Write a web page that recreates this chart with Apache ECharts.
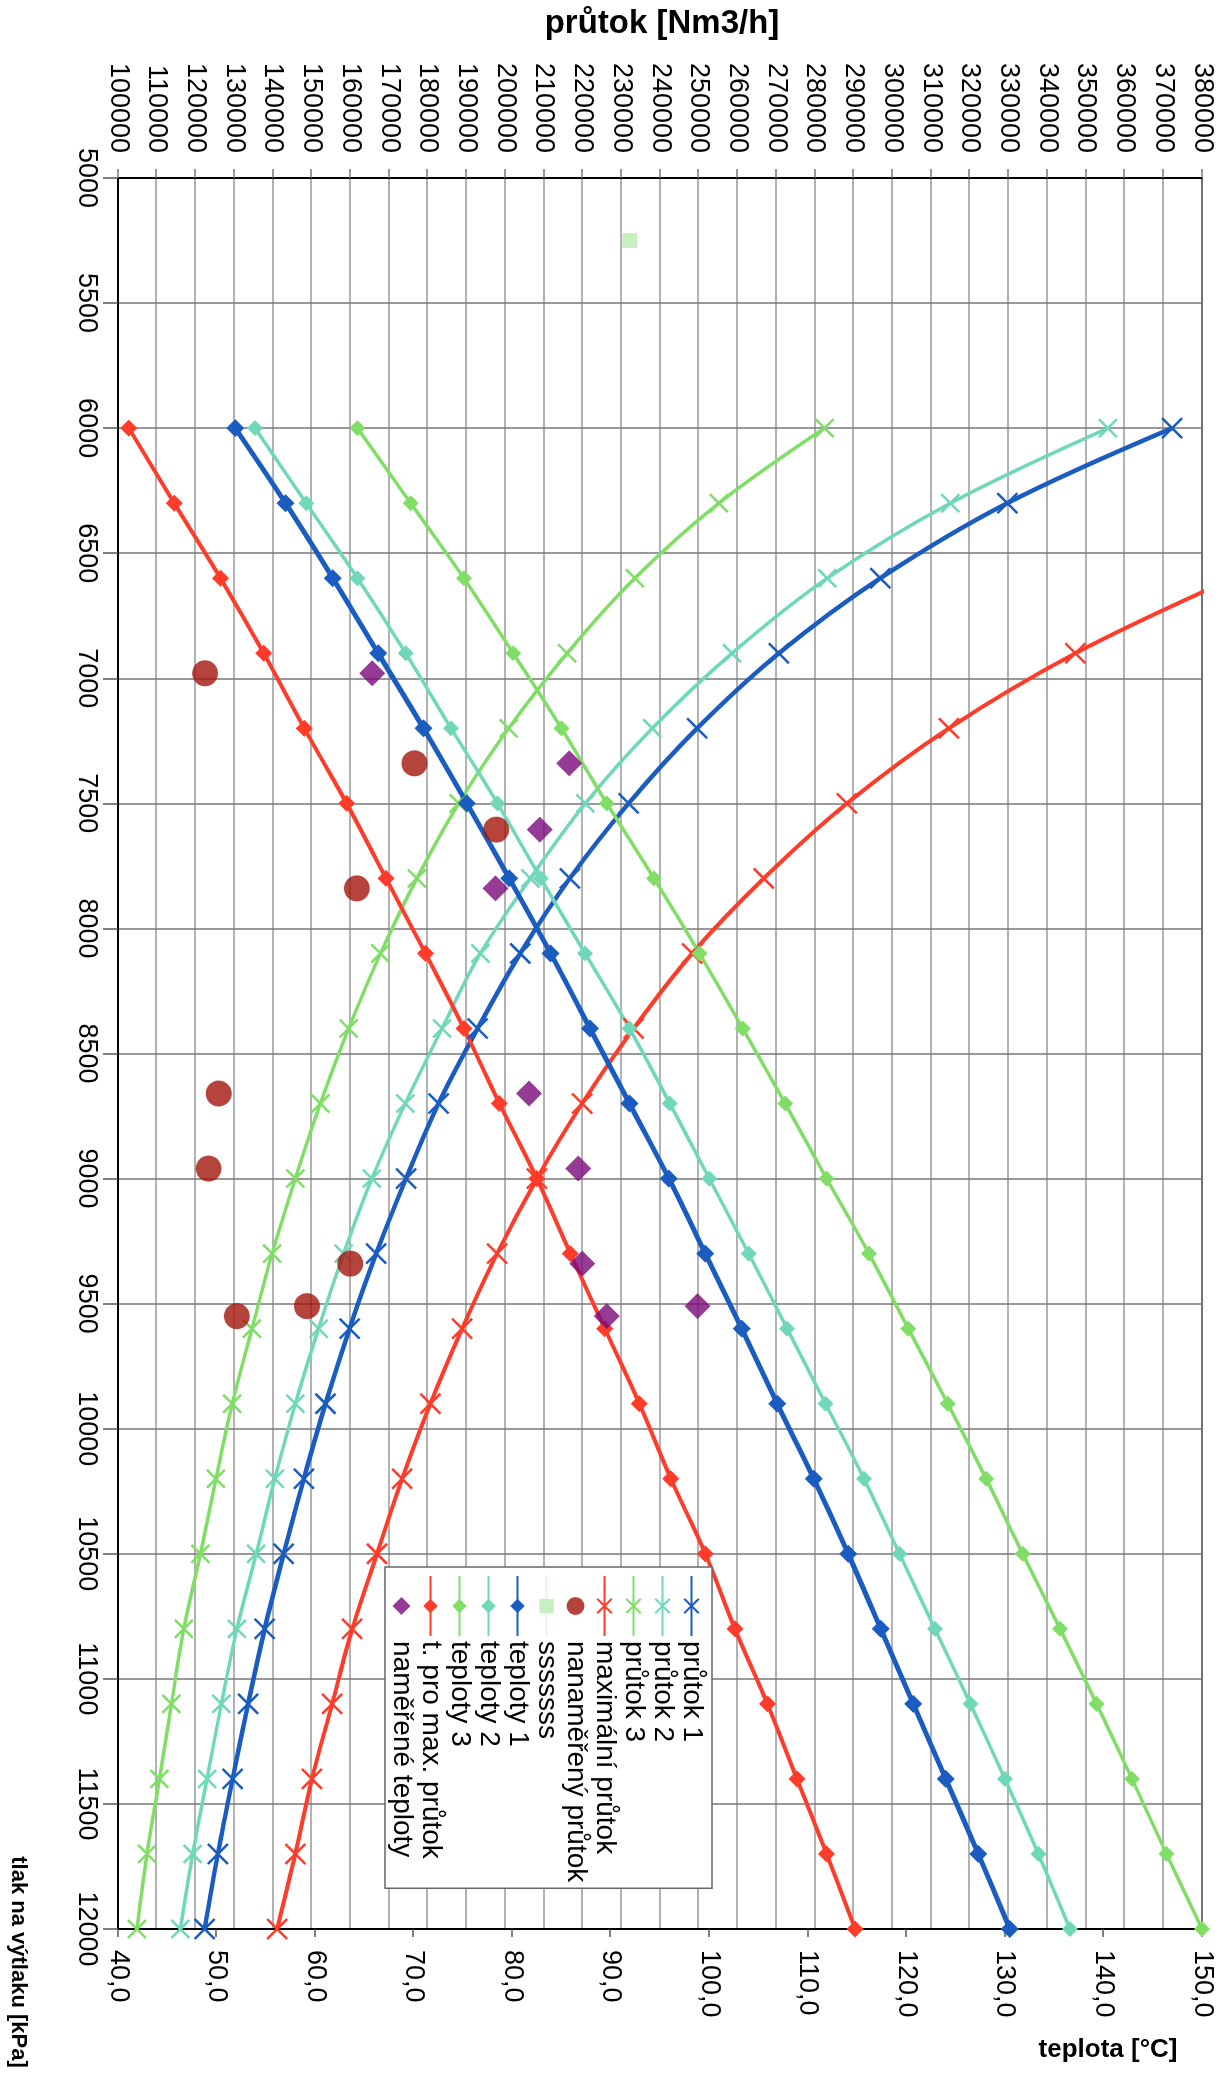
<!DOCTYPE html>
<html><head><meta charset="utf-8">
<script src="https://cdn.jsdelivr.net/npm/echarts@6/dist/echarts.min.js"></script>
<style>
html,body{margin:0;padding:0;width:1224px;height:2078px;overflow:hidden;background:#fff;}
#chart{position:absolute;left:0;top:0;width:2078px;height:1224px;transform-origin:0 0;transform:translate(1224px,0) rotate(90deg);background:#fff;}
</style></head><body><div id="chart"></div>
<script>
// pressure [kPa] at which curve points are given
const pressures = [6000, 6300, 6600, 6900, 7200, 7500, 7800, 8100, 8400, 8700, 9000, 9300, 9600, 9900, 10200, 10500, 10800, 11100, 11400, 11700, 12000];
// flow curves [Nm3/h]
const prutok1 = [372300, 329700, 296900, 270700, 249600, 231900, 216700, 203900, 192900, 182800, 174400, 166700, 159800, 153600, 148000, 142800, 137900, 133600, 129600, 125800, 122400];
const prutok2 = [355700, 315000, 283200, 258600, 238000, 220700, 206500, 193600, 183700, 174200, 165600, 158300, 151800, 145800, 140500, 135700, 130700, 126700, 123000, 119300, 116100];
const prutok3 = [282500, 255200, 233500, 216000, 200900, 188000, 177200, 167800, 159600, 152300, 145800, 139800, 134600, 129500, 125300, 121300, 117000, 113800, 110700, 107500, 104900];
const maxPrutok = [null, null, 388000, 347300, 314600, 288300, 266800, 248300, 233200, 219900, 208200, 197900, 188900, 180700, 173400, 166900, 160500, 155300, 150100, 145800, 141100];
// temperature curves [°C]
const teploty1 = [51.9, 57.0, 61.8, 66.4, 71.0, 75.4, 79.7, 83.9, 87.9, 91.9, 95.9, 99.6, 103.3, 106.9, 110.6, 114.1, 117.4, 120.7, 124.0, 127.3, 130.5];
const teploty2 = [53.9, 59.1, 64.3, 69.2, 73.8, 78.5, 82.9, 87.4, 91.9, 96.0, 100.0, 104.0, 107.9, 111.8, 115.7, 119.3, 122.9, 126.5, 130.0, 133.4, 136.6];
const teploty3 = [64.3, 69.7, 75.1, 80.1, 85.0, 89.6, 94.4, 99.0, 103.4, 107.7, 111.9, 116.2, 120.2, 124.2, 128.1, 131.8, 135.6, 139.3, 142.9, 146.4, 150.0];
const tMaxPrutok = [41.1, 45.7, 50.4, 54.8, 58.9, 63.2, 67.2, 71.2, 75.1, 78.7, 82.5, 85.9, 89.4, 92.9, 96.1, 99.6, 102.6, 105.9, 108.9, 111.9, 114.8];
// measured points
const measPressure = [6980, 7340, 7605, 7840, 8660, 8960, 9340, 9510, 9550];
const measTemp = [65.8, 85.8, 82.8, 78.3, 81.7, 86.7, 87.1, 98.8, 89.6];
const measFlow = [122500, 176600, 197700, 161700, 126000, 123400, 160000, 148800, 130700];
const sssPressure = [5250];
const sssFlow = [232200];

const FONT = '"Liberation Sans", Arial, sans-serif';
const XSYM = 'path://M0,0L20,20M20,0L0,20';
const DIAM = 'path://M10,0L20,10L10,20L0,10Z';

function pairs(xs, ys) {
  const out = [];
  xs.forEach((x, i) => { if (ys[i] !== null) out.push([x, ys[i]]); });
  return out;
}
function lineS(name, ys, yIdx, color, symbol, size, width, isX) {
  return {
    name, type: 'line', yAxisIndex: yIdx, data: pairs(pressures, ys),
    smooth: 0.35, symbol, symbolSize: size,
    lineStyle: { color, width },
    itemStyle: isX ? { color, borderColor: color, borderWidth: 2.5 } : { color, borderColor: color, borderWidth: 0 },
    clip: true
  };
}

const chart = echarts.init(document.getElementById('chart'), null, { renderer: 'canvas', width: 2078, height: 1224 });
chart.setOption({
  animation: false,
  backgroundColor: '#fff',
  grid: { left: 178, right: 149, top: 22, bottom: 118, show: true, borderColor: '#000', borderWidth: 2, backgroundColor: 'transparent' },
  xAxis: {
    type: 'value', min: 5000, max: 12000, interval: 500,
    axisLine: { show: true, lineStyle: { color: '#000', width: 2 } },
    axisTick: { show: true, inside: false, length: 15, lineStyle: { color: '#555', width: 1.5 } },
    axisLabel: { fontSize: 27, fontFamily: FONT, color: '#000', margin: 18, formatter: v => String(v) },
    splitLine: { show: true, lineStyle: { color: '#777', width: 1.5 } }
  },
  yAxis: [
    {
      type: 'value', position: 'left', min: 100000, max: 380000, interval: 10000,
      axisLine: { show: true, lineStyle: { color: '#000', width: 2 } },
      axisTick: { show: true, inside: false, length: 9, lineStyle: { color: '#777', width: 1.5 } },
      axisLabel: { fontSize: 27, fontFamily: FONT, color: '#000', margin: 25, formatter: v => String(v) },
      splitLine: { show: true, lineStyle: { color: '#999', width: 1.5 } }
    },
    {
      type: 'value', position: 'right', min: 40, max: 150, interval: 10,
      axisLine: { show: true, lineStyle: { color: '#000', width: 2 } },
      axisTick: { show: true, inside: false, length: 8, lineStyle: { color: '#555', width: 1.5 } },
      axisLabel: { fontSize: 27, fontFamily: FONT, color: '#000', margin: 21, formatter: v => v.toFixed(1).replace('.', ',') },
      splitLine: { show: false }
    }
  ],
  legend: {
    orient: 'vertical', left: 1567, top: 512,
    padding: [6, 6, 2, 8], itemGap: 0, itemWidth: 60, itemHeight: 18, symbolKeepAspect: true,
    backgroundColor: '#fff', borderColor: '#666', borderWidth: 1.5, borderRadius: 0,
    textStyle: { fontSize: 28, fontFamily: FONT, color: '#000', lineHeight: 29 },
    data: ['průtok 1', 'průtok 2', 'průtok 3', 'maximální průtok', 'nanaměřený průtok', 'sssssss', 'teploty 1', 'teploty 2', 'teploty 3', 't. pro max. průtok', 'naměřené teploty']
  },
  graphic: [
    { type: 'text', x: 24, y: 562, rotation: Math.PI / 2, style: { text: 'průtok [Nm3/h]', font: 'bold 33px ' + FONT, fill: '#000', align: 'center', verticalAlign: 'middle', textAlign: 'center', textVerticalAlign: 'middle' } },
    { type: 'text', x: 2050, y: 116, rotation: Math.PI / 2, style: { text: 'teplota [°C]', font: 'bold 26px ' + FONT, fill: '#000', align: 'center', verticalAlign: 'middle', textAlign: 'center', textVerticalAlign: 'middle' } },
    { type: 'text', x: 1962, y: 1206, style: { text: 'tlak na výtlaku [kPa]', font: 'bold 22px ' + FONT, fill: '#000', align: 'center', verticalAlign: 'middle', textAlign: 'center', textVerticalAlign: 'middle' } }
  ],
  series: [
    lineS('průtok 1', prutok1, 0, '#1a5cc0', XSYM, 20, 4.5, true),
    lineS('průtok 2', prutok2, 0, '#6fd8b8', XSYM, 18, 3.5, true),
    lineS('průtok 3', prutok3, 0, '#80dd66', XSYM, 18, 3.5, true),
    lineS('maximální průtok', maxPrutok, 0, '#ff3b2a', XSYM, 20, 4, true),
    { name: 'nanaměřený průtok', type: 'scatter', yAxisIndex: 0, data: pairs(measPressure, measFlow), symbol: 'circle', symbolSize: 26, itemStyle: { color: '#a3150b' }, z: 3 },
    { name: 'sssssss', type: 'line', yAxisIndex: 0, data: pairs(sssPressure, sssFlow), symbol: 'rect', symbolSize: 15, lineStyle: { color: '#e4f6e2', width: 4 }, itemStyle: { color: '#c6f0bf' } },
    lineS('teploty 1', teploty1, 1, '#1a5cc0', 'diamond', 18, 5, false),
    lineS('teploty 2', teploty2, 1, '#6fd8b8', 'diamond', 16, 3.5, false),
    lineS('teploty 3', teploty3, 1, '#80dd66', 'diamond', 16, 3.5, false),
    lineS('t. pro max. průtok', tMaxPrutok, 1, '#ff3b2a', 'diamond', 17, 4, false),
    { name: 'naměřené teploty', type: 'scatter', yAxisIndex: 1, data: pairs(measPressure, measTemp), symbol: DIAM, symbolSize: 26, symbolKeepAspect: true, itemStyle: { color: '#7a0a7a' }, z: 3 }
  ]
});
</script></body></html>
